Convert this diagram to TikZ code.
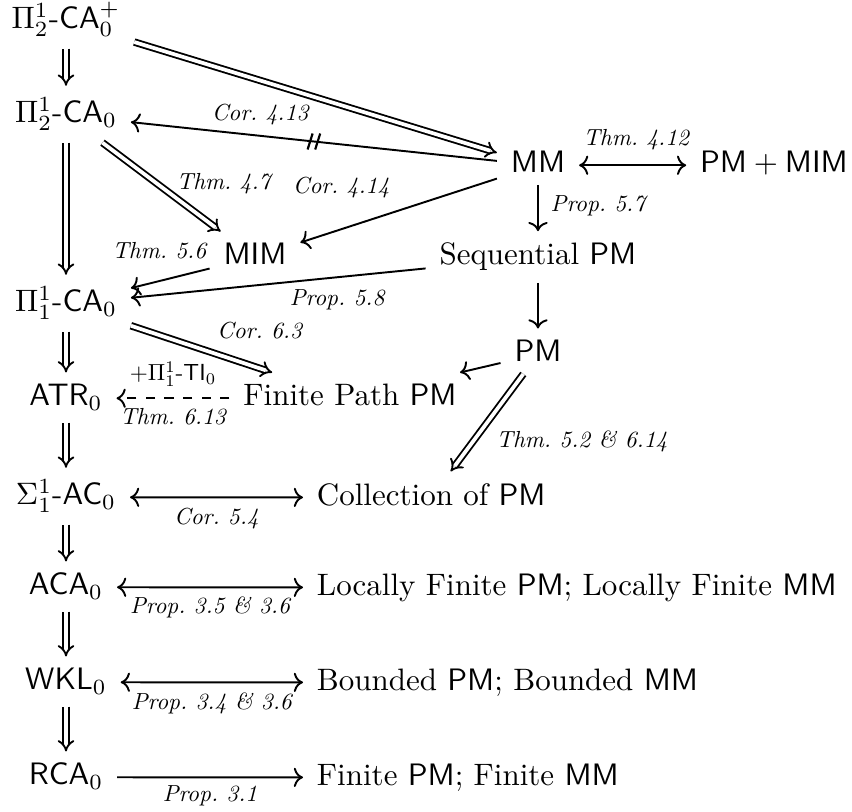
\documentclass[tikz,border=0pt]{standalone}
\usepackage{amsmath}
\usepackage{graphicx}
\usetikzlibrary{cd,arrows.meta}
\frenchspacing
\newcommand{\lb}[1]{\scalebox{0.75}{\itshape #1}}
\newcommand{\lbm}[1]{\scalebox{0.75}{$#1$}}
\tikzset{
  x=0.32258pt, y=-0.32258pt,
  cell/.style={shape=asymmetrical rectangle, inner xsep=1ex, inner ysep=0.85ex, anchor=base},
  lcell/.style={shape=asymmetrical rectangle, inner xsep=1ex, inner ysep=0.85ex, anchor=west},
  lbl/.style={inner sep=0pt, anchor=center},
  ar/.style={line width=0.62pt, -{Computer Modern Rightarrow}},
  arr2/.style={line width=0.62pt, {Computer Modern Rightarrow}-{Computer Modern Rightarrow}},
  imp/.style={line width=0.6pt, double, double distance=1.2pt, -{Implies}},
  slashstroke/.style={line width=0.7pt}
}
\begin{document}
\begin{tikzpicture}
\useasboundingbox (0,0) rectangle (852,812);
% left column
\node[cell] (N1) at (66,29) {$\Pi^1_2\text{-}\mathsf{CA}_0^+$};
\node[cell] (N2) at (66,123) {$\Pi^1_2\text{-}\mathsf{CA}_0$};
\node[cell] (N3) at (66,312) {$\Pi^1_1\text{-}\mathsf{CA}_0$};
\node[cell] (N4) at (66,406) {$\mathsf{ATR}_0$};
\node[cell] (N5) at (66,505) {$\Sigma^1_1\text{-}\mathsf{AC}_0$};
\node[cell] (N6) at (66,595) {$\mathsf{ACA}_0$};
\node[cell] (N7) at (66,690) {$\mathsf{WKL}_0$};
\node[cell] (N8) at (66,785) {$\mathsf{RCA}_0$};
% other nodes
\node[cell] (MM) at (538,173) {$\mathsf{MM}$};
\node[cell] (PMMIM) at (774,173) {$\mathsf{PM}+\mathsf{MIM}$};
\node[cell] (MIM) at (255,265) {$\mathsf{MIM}$};
\node[cell] (Seq) at (538,265) {Sequential $\mathsf{PM}$};
\node[cell] (PM) at (538,362) {$\mathsf{PM}$};
\node[cell] (FPPM) at (350,406) {Finite Path $\mathsf{PM}$};
\node[lcell] (Coll) at (303,497.5) {Collection of $\mathsf{PM}$};
\node[lcell] (LF) at (303,587.5) {Locally Finite $\mathsf{PM}$; Locally Finite $\mathsf{MM}$};
\node[lcell] (Bd) at (303,682.5) {Bounded $\mathsf{PM}$; Bounded $\mathsf{MM}$};
\node[lcell] (Fin) at (303,777.5) {Finite $\mathsf{PM}$; Finite $\mathsf{MM}$};
% left column implications
\draw[imp] (N1) -- (N2);
\draw[imp] (N2) -- (N3);
\draw[imp] (N3) -- (N4);
\draw[imp] (N4) -- (N5);
\draw[imp] (N5) -- (N6);
\draw[imp] (N6) -- (N7);
\draw[imp] (N7) -- (N8);
% upper part
\draw[imp] (N1) -- (MM);
\draw[ar] (MM) -- node[lbl, pos=0.647, shift={(0,-21)}] {\lb{Cor. 4.13}}
  coordinate[pos=0.5] (sl) (N2);
\draw[slashstroke] ([shift={(-6.3,8)}]sl) -- ([shift={(-1.3,-8)}]sl);
\draw[slashstroke] ([shift={(1.3,8)}]sl) -- ([shift={(6.3,-8)}]sl);
\draw[imp] (N2) -- node[lbl, pos=0.5, shift={(62,-3)}] {\lb{Thm. 4.7}} (MIM);
\draw[ar] (MM) -- node[lbl, pos=0.5, shift={(-57.5,-23)}] {\lb{Cor. 4.14}} (MIM);
\draw[ar] (MIM) -- node[lbl, pos=0.5, shift={(-11,-27.6)}] {\lb{Thm. 5.6}} (N3);
\draw[ar] (Seq) -- node[lbl, pos=0.3, shift={(0,22.5)}] {\lb{Prop. 5.8}} (N3);
\draw[ar] (MM) -- node[lbl, pos=0.5, shift={(60,-2.5)}] {\lb{Prop. 5.7}} (Seq);
\draw[arr2] (MM) -- node[lbl, pos=0.5, shift={(3.5,-25.5)}] {\lb{Thm. 4.12}} (PMMIM);
\draw[ar] (Seq) -- (PM);
\draw[ar] (PM) -- (FPPM);
\draw[imp] (PM) -- node[lbl, pos=0.5, shift={(95,19)}] {\lb{Thm. 5.2 \& 6.14}} (Coll);
\draw[imp] (N3) -- node[lbl, pos=0.5, shift={(58,-18.5)}] {\lb{Cor. 6.3}} (FPPM);
\draw[ar, dashed] (FPPM) -- node[lbl, pos=0.5, shift={(0,-24)}] {\lbm{+\Pi^1_1\text{-}\mathsf{TI}_0}}
  node[lbl, pos=0.5, shift={(0,18.5)}] {\lb{Thm. 6.13}} (N4);
% lower part
\draw[arr2] (N5) -- node[lbl, pos=0.5, shift={(0,21)}] {\lb{Cor. 5.4}} (Coll);
\draw[arr2] (N6) -- node[lbl, pos=0.5, shift={(0,20.5)}] {\lb{Prop. 3.5 \& 3.6}} (LF);
\draw[arr2] (N7) -- node[lbl, pos=0.5, shift={(0,21)}] {\lb{Prop. 3.4 \& 3.6}} (Bd);
\draw[ar] (N8) -- node[lbl, pos=0.5, shift={(0,18.5)}] {\lb{Prop. 3.1}} (Fin);
\end{tikzpicture}
\end{document}
